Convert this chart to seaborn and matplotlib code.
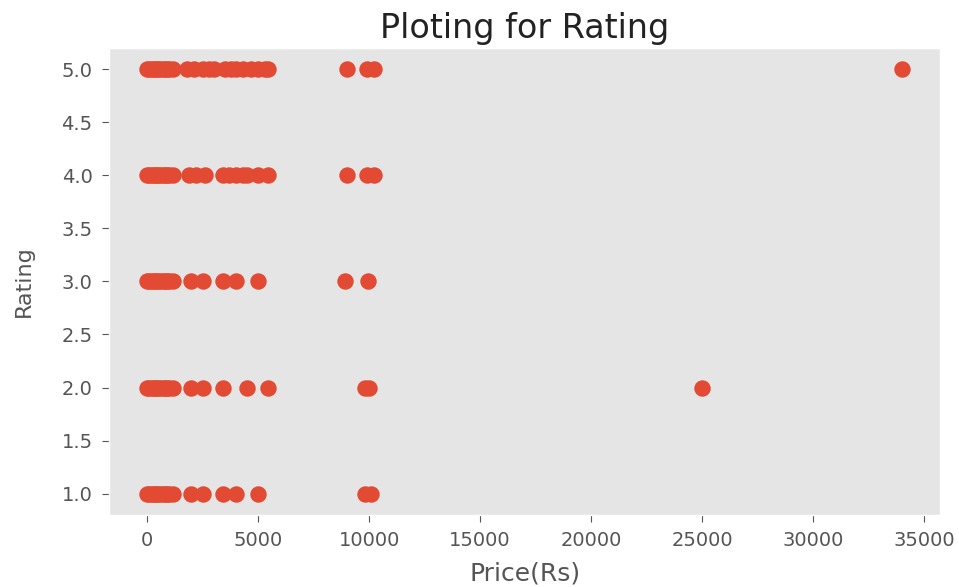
import matplotlib
matplotlib.use('Agg')
import matplotlib.pyplot as plt
import seaborn as sns
import pandas as pd

# prices (Rs), grouped by rating
low_prices = [0, 100, 200, 300, 400, 500, 600, 700, 800, 900, 1000, 1150]

price_r5 = low_prices + [1800, 2100, 2500, 2800, 3000, 3500, 3800, 4000, 4300,
                         4700, 5000, 5300, 5450, 9000, 9900, 10200, 34000]
price_r4 = low_prices + [1900, 2200, 2600, 3400, 3700, 4000, 4300, 4500, 5000,
                         5450, 9000, 9900, 10200]
price_r3 = low_prices + [2000, 2500, 3400, 4000, 5000, 8900, 9950]
price_r2 = low_prices + [2000, 2500, 3400, 4500, 5450, 9800, 10000, 25000]
price_r1 = low_prices + [2000, 2500, 3400, 4000, 5000, 9800, 10100]

ratings = [5.0, 4.0, 3.0, 2.0, 1.0]
price_lists = [price_r5, price_r4, price_r3, price_r2, price_r1]

rows = []
for r, plist in zip(ratings, price_lists):
    for p in plist:
        rows.append({'Price': p, 'Rating': r})
data = pd.DataFrame(rows)

plt.style.use('ggplot')

fig = plt.figure(figsize=(9.59, 5.87), dpi=100)
ax = fig.add_axes([0.114, 0.123, 0.866, 0.795])

sns.scatterplot(x='Price', y='Rating', data=data, ax=ax,
                color='#E24A33', s=140, linewidth=0, alpha=1)

ax.grid(False)
ax.set_title('Ploting for Rating', fontsize=24, color='#222222', pad=7)
ax.set_xlabel('Price(Rs)', fontsize=18, color='#555555', labelpad=8)
ax.set_ylabel('Rating', fontsize=16, color='#555555', labelpad=20)
ax.tick_params(axis='both', labelsize=14, colors='#555555', length=5, pad=7)
ax.set_xticks([0, 5000, 10000, 15000, 20000, 25000, 30000, 35000])
ax.set_yticks([1.0, 1.5, 2.0, 2.5, 3.0, 3.5, 4.0, 4.5, 5.0])
ax.set_yticklabels(['1.0', '1.5', '2.0', '2.5', '3.0', '3.5', '4.0', '4.5', '5.0'])

fig.savefig('out.png', dpi=100)
